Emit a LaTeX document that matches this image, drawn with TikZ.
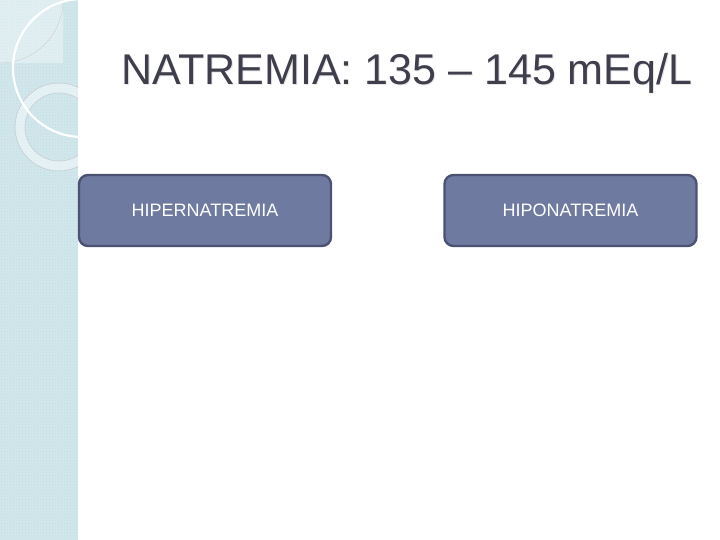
\documentclass[tikz,border=0pt]{standalone}
\usepackage{fontspec}
\setmainfont{Liberation Sans}
\usetikzlibrary{patterns}
\definecolor{stripbg}{HTML}{D2E7EC}
\definecolor{stripdot}{HTML}{BFDDE4}
\definecolor{titlecol}{HTML}{3E3E4C}
\definecolor{boxfill}{HTML}{6F7AA1}
\definecolor{boxline}{HTML}{4B5272}
\tikzset{
  catbox/.style={draw=boxline, line width=2.4pt, fill=boxfill, rounded corners=9pt,
    minimum width=252pt, minimum height=71pt, text=white, font=\fontsize{18pt}{21pt}\selectfont},
  titletext/.style={font=\fontsize{43pt}{48pt}\selectfont, anchor=base},
}
\begin{document}
\begin{tikzpicture}[x=1pt,y=-1pt]
\useasboundingbox (0,0) rectangle (720,540);
\fill[white] (0,0) rectangle (720,540);
% decorative strip
\begin{scope}
\clip (0,0) rectangle (78,540);
\fill[stripbg] (0,0) rectangle (78,540);
\fill[pattern=crosshatch dots, pattern color=stripdot] (0,0) rectangle (78,540);
\fill[white, opacity=0.35] (0,0) rectangle (63,63);
\draw[gray!35, line width=0.5pt] (0,0) circle[radius=63];
\draw[white, opacity=0.45, line width=9pt] (59,127) circle[radius=39];
\draw[gray!40, line width=0.5pt] (59,127) circle[radius=44];
\draw[gray!40, line width=0.5pt] (59,127) circle[radius=34];
\draw[white, line width=2.2pt] (82,68) circle[radius=69];
\end{scope}
% title
\node[text=gray!18, titletext] at (408,86) {NATREMIA: 135 – 145 mEq/L};
\node[text=titlecol, titletext] (title) at (407,85) {NATREMIA: 135 – 145 mEq/L};
% boxes
\node[catbox] (hiper) at (205,210.5) {HIPERNATREMIA};
\node[catbox] (hipo) at (570.5,210.5) {HIPONATREMIA};
\end{tikzpicture}
\end{document}
